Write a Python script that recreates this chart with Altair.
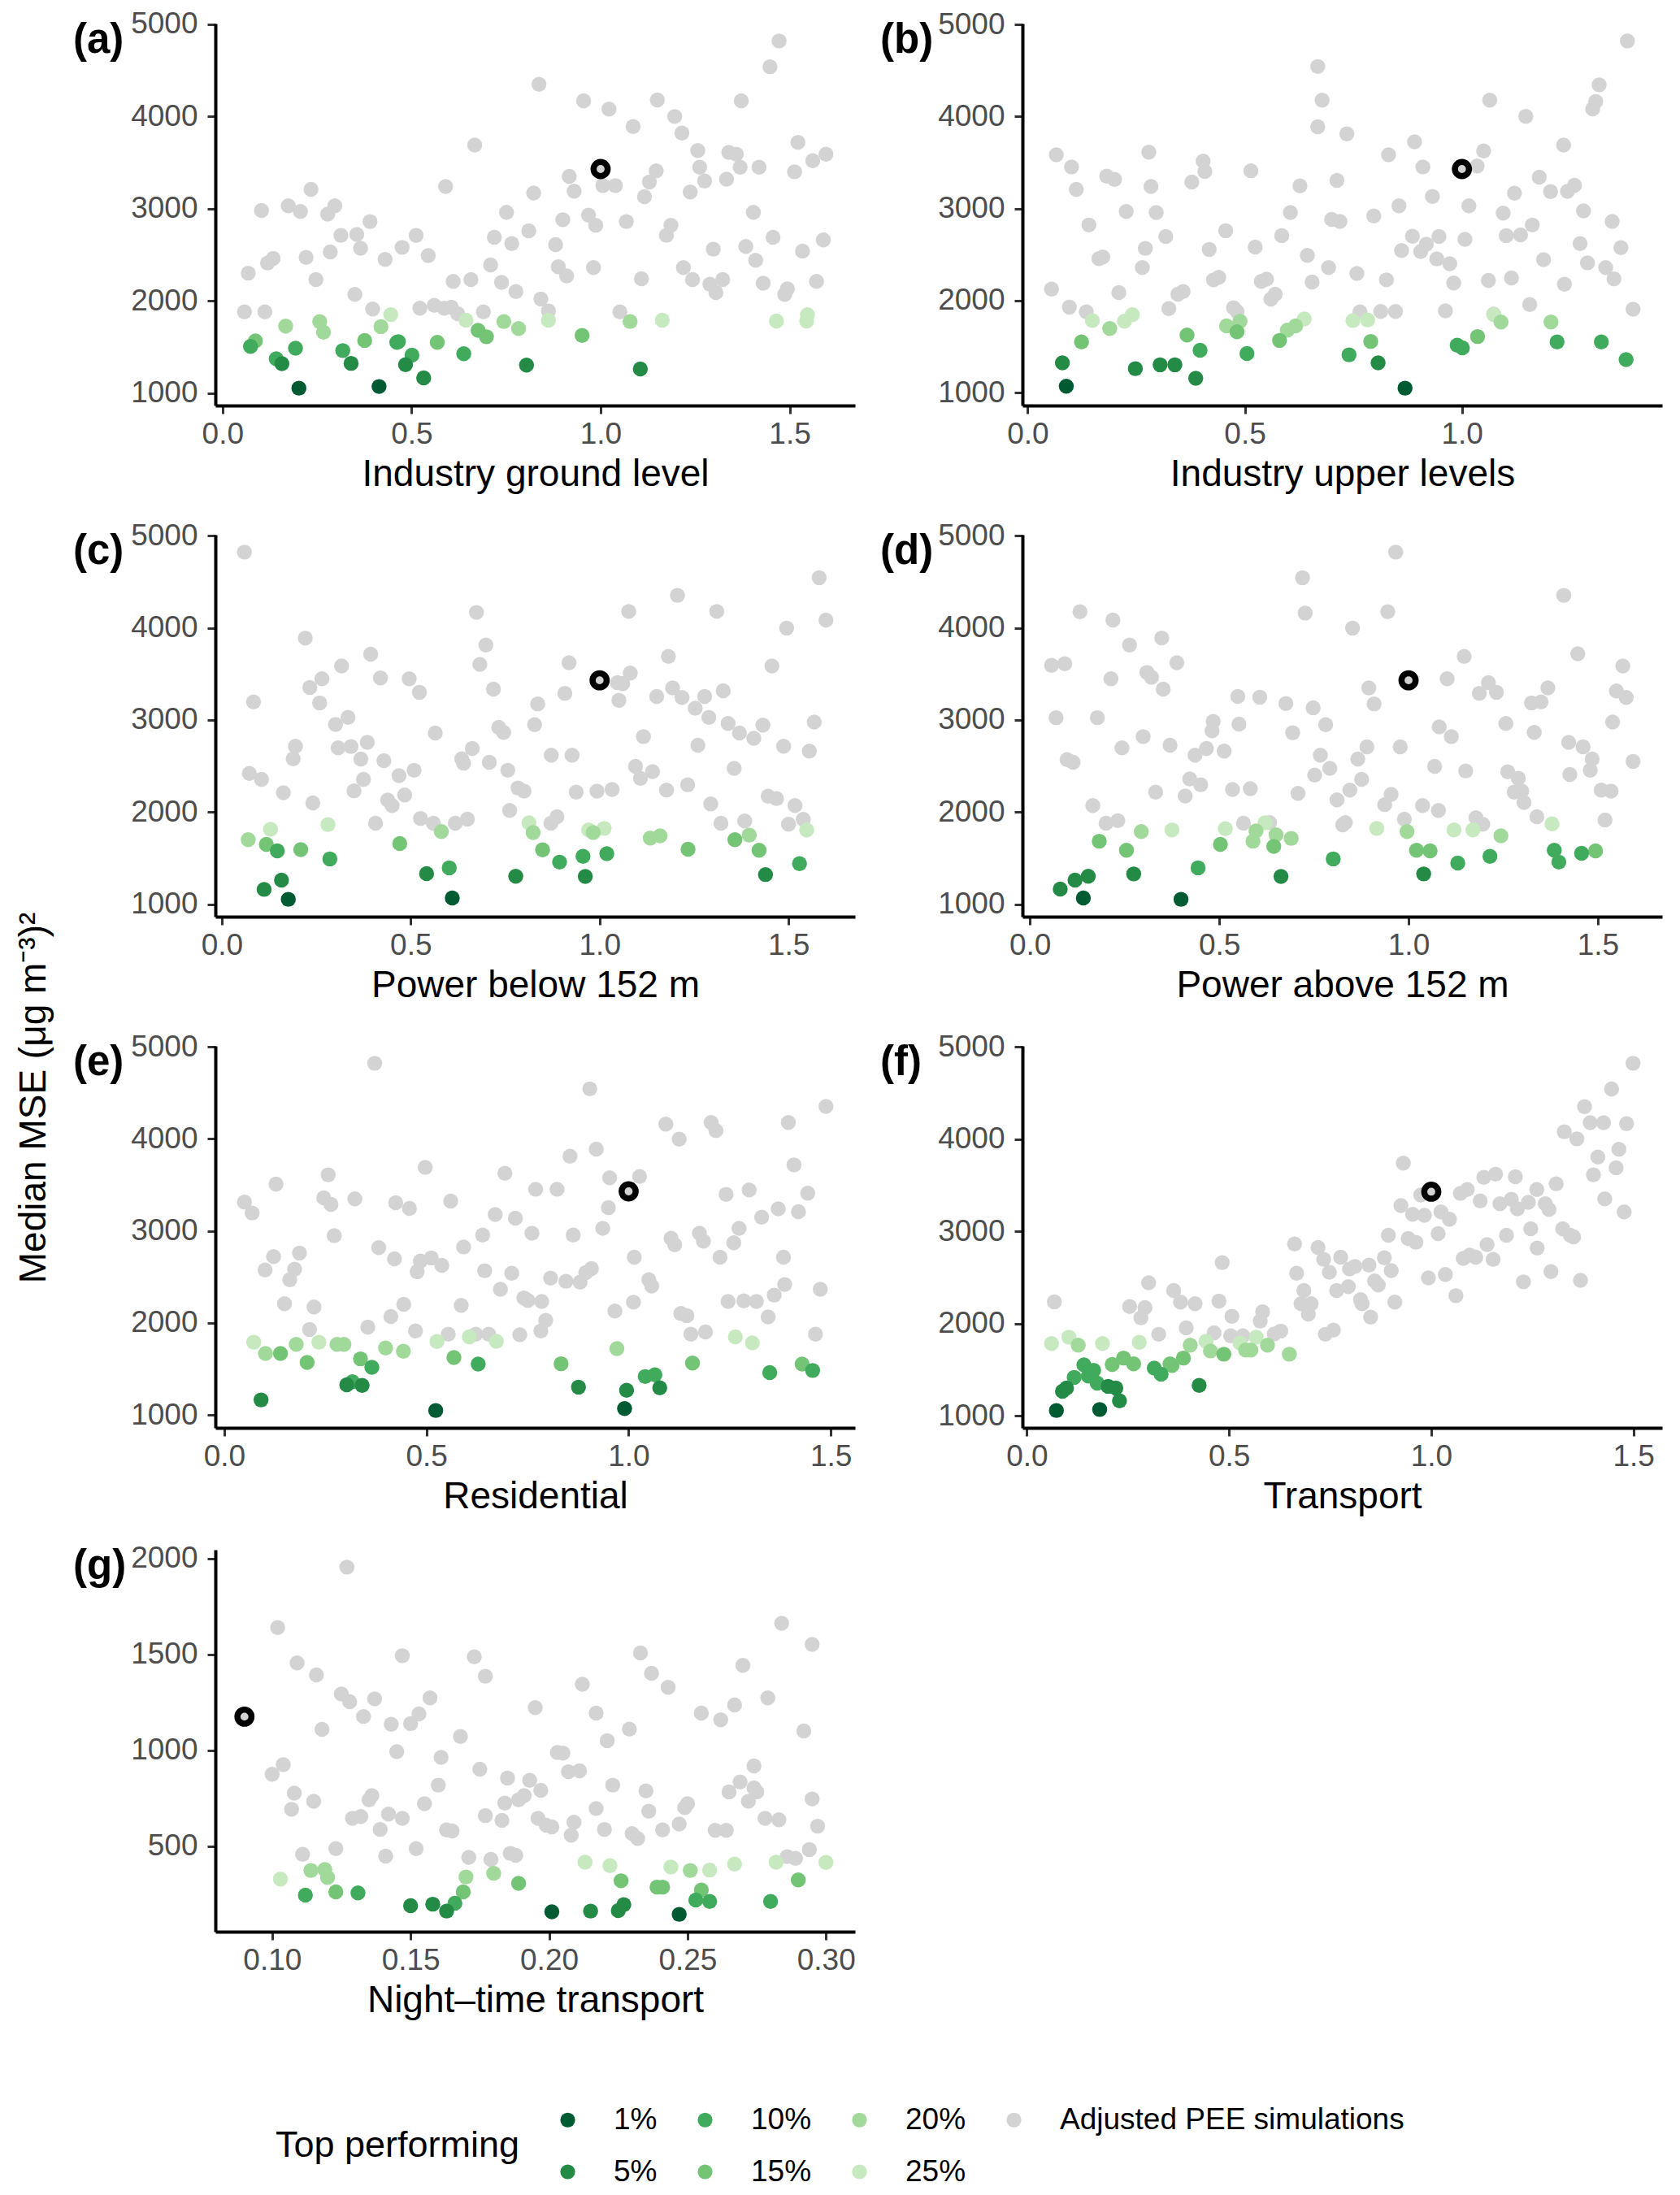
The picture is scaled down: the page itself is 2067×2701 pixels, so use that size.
import altair as alt
import pandas as pd

FONT = "Liberation Sans"

GRAY_LABEL = "Adjusted PEE simulations"
LEGEND_ORDER = ["1%", "10%", "20%", GRAY_LABEL, "5%", "15%", "25%"]
LEGEND_COLORS = ["#005a32", "#41ab5d", "#a1d99b", "#d3d3d3", "#238b45", "#74c476", "#c7e9c0"]
DRAW_ORDER = [GRAY_LABEL, "25%", "20%", "15%", "10%", "5%", "1%"]

TAGS = ["(a)", "(b)", "(c)", "(d)", "(e)", "(f)", "(g)"]
X_TITLES = ["Industry ground level", "Industry upper levels", "Power below 152 m",
            "Power above 152 m", "Residential", "Transport", "Night\u2013time transport"]
Y_TITLE = "Median MSE (\u03bcg m\u207b\u00b3)\u00b2"
LEGEND_TITLE = "Top performing"

X_TICKS = [0.0, 0.5, 1.0, 1.5]
X_TICKS_G = [0.10, 0.15, 0.20, 0.25, 0.30]
Y_TICKS = [1000, 2000, 3000, 4000, 5000]
Y_TICKS_G = [500, 1000, 1500, 2000]

REF = (1.0, 3430)
REF_G = (0.09, 1175)

# ---------------- (a) Industry ground level
a_gray = [
    (0.058, 1880), (0.068, 2300), (0.103, 2980), (0.112, 1880), (0.119, 2410), (0.134, 2460),
    (0.174, 3030), (0.206, 2970), (0.221, 2470), (0.234, 3210), (0.247, 2230), (0.278, 2940),
    (0.285, 2530), (0.297, 3030), (0.313, 2710), (0.350, 2070), (0.355, 2720), (0.365, 2570),
    (0.390, 2860), (0.397, 1910), (0.430, 2450), (0.475, 2580), (0.512, 2710), (0.522, 1920),
    (0.544, 2490), (0.560, 1950), (0.586, 1920), (0.590, 3240), (0.605, 1930), (0.610, 2210),
    (0.622, 1860), (0.657, 2230), (0.667, 3690), (0.690, 1880), (0.709, 2390), (0.719, 2690),
    (0.738, 2200), (0.751, 2960), (0.765, 2620), (0.776, 2100), (0.810, 2760), (0.823, 3170),
    (0.837, 4350), (0.842, 2020), (0.862, 1890), (0.881, 2610), (0.888, 2370), (0.900, 2880),
    (0.910, 2270), (0.917, 3350), (0.930, 3190), (0.955, 4170), (0.968, 2930), (0.981, 2360),
    (0.987, 2820), (1.006, 3250), (1.022, 4080), (1.039, 3250), (1.051, 1880), (1.068, 2860),
    (1.086, 3890), (1.108, 2240), (1.116, 3130), (1.129, 3290), (1.147, 3410), (1.150, 4180),
    (1.174, 2710), (1.186, 2820), (1.196, 4000), (1.215, 3820), (1.219, 2360), (1.237, 3180),
    (1.243, 2230), (1.257, 3630), (1.262, 3450), (1.275, 3300), (1.289, 2180), (1.298, 2560),
    (1.305, 2090), (1.323, 2230), (1.333, 3320), (1.339, 3610), (1.359, 3590), (1.369, 3450),
    (1.372, 4170), (1.384, 2590), (1.404, 2960), (1.410, 2440), (1.419, 3450), (1.430, 2190),
    (1.448, 4540), (1.456, 2690), (1.472, 4820), (1.487, 2070), (1.494, 2130), (1.513, 3400),
    (1.522, 3720), (1.534, 2540), (1.561, 3520), (1.571, 2210), (1.589, 2660), (1.596, 3590),
]
a_top = [
    ("25%", 0.445, 1850), ("25%", 0.644, 1790), ("25%", 0.862, 1790), ("25%", 1.163, 1790),
    ("25%", 1.465, 1780), ("25%", 1.547, 1850), ("25%", 1.545, 1780),
    ("20%", 0.167, 1725), ("20%", 0.257, 1775), ("20%", 0.267, 1660), ("20%", 0.419, 1720),
    ("20%", 0.744, 1775), ("20%", 0.783, 1700), ("20%", 1.078, 1775),
    ("15%", 0.087, 1565), ("15%", 0.376, 1570), ("15%", 0.568, 1550), ("15%", 0.676, 1680),
    ("15%", 0.698, 1610), ("15%", 0.951, 1625),
    ("10%", 0.074, 1505), ("10%", 0.142, 1370), ("10%", 0.193, 1485), ("10%", 0.318, 1460),
    ("10%", 0.461, 1550), ("10%", 0.465, 1557), ("10%", 0.501, 1410), ("10%", 0.638, 1425),
    ("5%", 0.157, 1317), ("5%", 0.340, 1321), ("5%", 0.484, 1307), ("5%", 0.532, 1164),
    ("5%", 0.804, 1303), ("5%", 1.105, 1261),
    ("1%", 0.202, 1052), ("1%", 0.414, 1070),
]

# ---------------- (b) Industry upper levels
b_gray = [
    (0.055, 2125), (0.066, 3585), (0.096, 1930), (0.101, 3453), (0.112, 3209), (0.135, 1878),
    (0.141, 2822), (0.164, 2456), (0.173, 2474), (0.182, 3352), (0.200, 3317), (0.210, 2087),
    (0.227, 2969), (0.264, 2359), (0.271, 2568), (0.279, 3613), (0.284, 3240), (0.296, 2958),
    (0.318, 2697), (0.325, 1913), (0.346, 2070), (0.358, 2098), (0.378, 3289), (0.404, 3516),
    (0.408, 3404), (0.418, 2557), (0.428, 2226), (0.440, 2254), (0.456, 2760), (0.474, 1923),
    (0.482, 1882), (0.514, 3411), (0.524, 2582), (0.538, 2209), (0.550, 2233), (0.560, 2017),
    (0.570, 2070), (0.585, 2707), (0.605, 2958), (0.627, 3247), (0.644, 2491), (0.655, 2202),
    (0.668, 4544), (0.668, 3889), (0.678, 4178), (0.693, 2359), (0.700, 2882), (0.712, 3307),
    (0.719, 2861), (0.735, 3812), (0.758, 2296), (0.765, 1878), (0.797, 2920), (0.813, 1882),
    (0.826, 2226), (0.831, 3585), (0.847, 1882), (0.855, 3031), (0.861, 2544), (0.886, 2700),
    (0.891, 3725), (0.905, 2533), (0.910, 3453), (0.918, 2613), (0.932, 3132), (0.942, 2453),
    (0.947, 2697), (0.962, 1889), (0.972, 2401), (0.981, 2192), (1.007, 2666), (1.016, 3031),
    (1.035, 3463), (1.050, 3627), (1.061, 2220), (1.064, 4178), (1.073, 1854), (1.095, 2951),
    (1.102, 2707), (1.114, 2247), (1.121, 3167), (1.135, 2714), (1.147, 4003), (1.156, 1958),
    (1.162, 2822), (1.178, 3341), (1.188, 2446), (1.204, 3185), (1.234, 3690), (1.236, 2178),
    (1.243, 3188), (1.259, 3254), (1.272, 2620), (1.280, 2976), (1.289, 2411), (1.301, 4084),
    (1.308, 4164), (1.316, 4345), (1.331, 2359), (1.346, 2861), (1.350, 2237), (1.366, 2575),
    (1.381, 4822), (1.394, 1906),
]
b_top = [
    ("25%", 0.149, 1784), ("25%", 0.223, 1777), ("25%", 0.241, 1847), ("25%", 0.637, 1801),
    ("25%", 0.749, 1784), ("25%", 0.783, 1791), ("25%", 1.074, 1847),
    ("20%", 0.189, 1697), ("20%", 0.458, 1725), ("20%", 0.489, 1777), ("20%", 0.598, 1679),
    ("20%", 0.617, 1725), ("20%", 1.090, 1767), ("20%", 1.205, 1767),
    ("15%", 0.124, 1551), ("15%", 0.367, 1627), ("15%", 0.482, 1662), ("15%", 0.580, 1568),
    ("15%", 0.790, 1557), ("15%", 1.036, 1610),
    ("10%", 0.397, 1460), ("10%", 0.505, 1425), ("10%", 0.740, 1411), ("10%", 0.989, 1516),
    ("10%", 1.001, 1488), ("10%", 1.219, 1551), ("10%", 1.321, 1551), ("10%", 1.378, 1359),
    ("5%", 0.080, 1324), ("5%", 0.248, 1261), ("5%", 0.305, 1303), ("5%", 0.339, 1303),
    ("5%", 0.387, 1157), ("5%", 0.807, 1324),
    ("1%", 0.089, 1070), ("1%", 0.869, 1049),
]

# ---------------- (c) Power below 152 m
c_gray = [
    (0.060, 4822), (0.073, 2418), (0.084, 3195), (0.105, 2355), (0.163, 2209), (0.189, 2578),
    (0.195, 2714), (0.221, 3889), (0.233, 3352), (0.241, 2098), (0.259, 3185), (0.265, 3446),
    (0.301, 2951), (0.308, 2697), (0.317, 3585), (0.334, 3028), (0.342, 2711), (0.350, 2230),
    (0.368, 2575), (0.375, 2355), (0.385, 2756), (0.394, 3714), (0.407, 1878), (0.420, 3456),
    (0.429, 2557), (0.439, 2129), (0.451, 2070), (0.469, 2394), (0.484, 2185), (0.496, 3446),
    (0.509, 2453), (0.523, 3300), (0.526, 1930), (0.560, 1878), (0.565, 2857), (0.618, 1878),
    (0.635, 2578), (0.640, 2530), (0.650, 1923), (0.663, 2690), (0.674, 4167), (0.683, 3603),
    (0.699, 3812), (0.708, 2540), (0.719, 3334), (0.733, 2920), (0.746, 2864), (0.757, 2453),
    (0.762, 2017), (0.784, 2261), (0.800, 2226), (0.828, 2948), (0.836, 3174), (0.871, 1878),
    (0.872, 2617), (0.887, 1948), (0.908, 3289), (0.919, 3620), (0.927, 2617), (0.938, 2216),
    (0.993, 2226), (1.033, 2244), (1.047, 3404), (1.051, 3212), (1.061, 3394), (1.077, 4178),
    (1.081, 3509), (1.095, 2495), (1.108, 2366), (1.116, 2819), (1.140, 2439), (1.151, 3254),
    (1.177, 2237), (1.182, 3690), (1.193, 3348), (1.206, 4352), (1.218, 3244), (1.233, 2296),
    (1.253, 3126), (1.260, 2725), (1.278, 3254), (1.289, 3028), (1.294, 2087), (1.310, 4178),
    (1.321, 1878), (1.327, 3317), (1.340, 2962), (1.356, 2474), (1.370, 2857), (1.384, 1902),
    (1.408, 2801), (1.432, 2944), (1.446, 2171), (1.456, 3585), (1.468, 2146), (1.487, 2714),
    (1.495, 3997), (1.500, 1868), (1.517, 2070), (1.539, 1920), (1.555, 2662), (1.568, 2976),
    (1.581, 4544), (1.599, 4084),
]
c_top = [
    ("25%", 0.129, 1812), ("25%", 0.281, 1864), ("25%", 0.813, 1882), ("25%", 0.971, 1805),
    ("25%", 1.012, 1822), ("25%", 1.548, 1805),
    ("20%", 0.070, 1700), ("20%", 0.581, 1787), ("20%", 0.824, 1777), ("20%", 0.983, 1777),
    ("20%", 1.134, 1718), ("20%", 1.160, 1742), ("20%", 1.396, 1749),
    ("15%", 0.118, 1648), ("15%", 0.209, 1592), ("15%", 0.471, 1658), ("15%", 0.849, 1589),
    ("15%", 1.234, 1596), ("15%", 1.358, 1700), ("15%", 1.422, 1585),
    ("10%", 0.147, 1578), ("10%", 0.286, 1491), ("10%", 0.602, 1394), ("10%", 0.894, 1456),
    ("10%", 0.956, 1519), ("10%", 1.019, 1547), ("10%", 1.529, 1439),
    ("5%", 0.112, 1160), ("5%", 0.158, 1261), ("5%", 0.542, 1331), ("5%", 0.778, 1303),
    ("5%", 0.962, 1300), ("5%", 1.439, 1321),
    ("1%", 0.176, 1052), ("1%", 0.610, 1066),
]

# ---------------- (d) Power above 152 m
d_gray = [
    (0.057, 3592), (0.069, 3024), (0.092, 3610), (0.098, 2568), (0.114, 2540), (0.132, 4174),
    (0.166, 2070), (0.178, 3024), (0.201, 1878), (0.214, 3446), (0.219, 4084), (0.232, 1906),
    (0.243, 2697), (0.263, 3812), (0.299, 2819), (0.309, 3516), (0.321, 3463), (0.332, 2216),
    (0.348, 3889), (0.352, 3334), (0.370, 2725), (0.388, 3620), (0.410, 2174), (0.422, 2359),
    (0.436, 2617), (0.451, 2296), (0.466, 2690), (0.481, 2882), (0.484, 2983), (0.513, 2662),
    (0.535, 2244), (0.549, 3254), (0.552, 2955), (0.564, 1878), (0.582, 2254), (0.607, 3247),
    (0.633, 1885), (0.676, 3178), (0.694, 2861), (0.708, 2202), (0.720, 4544), (0.727, 4160),
    (0.748, 3132), (0.752, 2401), (0.767, 2617), (0.781, 2948), (0.792, 2474), (0.811, 2132),
    (0.826, 1861), (0.833, 1885), (0.845, 2237), (0.852, 3997), (0.866, 2575), (0.876, 2355),
    (0.890, 2707), (0.895, 3348), (0.909, 3174), (0.937, 2080), (0.954, 2192), (0.945, 4174),
    (0.966, 4822), (0.978, 2707), (0.989, 1923), (1.037, 2070), (1.069, 2495), (1.079, 2017),
    (1.081, 2923), (1.102, 3446), (1.113, 2819), (1.147, 3690), (1.151, 2446), (1.178, 1937),
    (1.187, 3289), (1.196, 1868), (1.211, 3404), (1.232, 3300), (1.257, 2962), (1.262, 2436),
    (1.279, 2216), (1.290, 2366), (1.299, 2226), (1.305, 2104), (1.325, 3185), (1.332, 2864),
    (1.339, 1948), (1.350, 3195), (1.368, 3348), (1.410, 4352), (1.423, 2756), (1.426, 2408),
    (1.447, 3718), (1.461, 2707), (1.480, 2453), (1.485, 2575), (1.509, 2237), (1.519, 1913),
    (1.535, 2226), (1.539, 2976), (1.549, 3314), (1.566, 3585), (1.575, 3244), (1.593, 2550),
]
d_top = [
    ("25%", 0.375, 1805), ("25%", 0.516, 1819), ("25%", 0.621, 1882), ("25%", 0.916, 1822),
    ("25%", 1.120, 1805), ("25%", 1.170, 1805), ("25%", 1.379, 1871),
    ("20%", 0.294, 1787), ("20%", 0.589, 1683), ("20%", 0.597, 1794), ("20%", 0.650, 1753),
    ("20%", 0.690, 1714), ("20%", 0.996, 1787), ("20%", 1.244, 1742),
    ("15%", 0.183, 1683), ("15%", 0.255, 1585), ("15%", 0.503, 1648), ("15%", 0.644, 1627),
    ("15%", 1.021, 1585), ("15%", 1.057, 1578), ("15%", 1.494, 1578),
    ("10%", 0.444, 1394), ("10%", 0.801, 1491), ("10%", 1.130, 1446), ("10%", 1.215, 1519),
    ("10%", 1.385, 1585), ("10%", 1.397, 1456), ("10%", 1.457, 1551),
    ("5%", 0.080, 1164), ("5%", 0.119, 1261), ("5%", 0.154, 1303), ("5%", 0.274, 1328),
    ("5%", 0.663, 1300), ("5%", 1.040, 1328),
    ("1%", 0.141, 1066), ("1%", 0.399, 1052),
]

# ---------------- (e) Residential
e_gray = [
    (0.050, 3314), (0.069, 3195), (0.101, 2575), (0.122, 2721), (0.128, 3509), (0.149, 2209),
    (0.162, 2470), (0.174, 2585), (0.186, 2760), (0.211, 1930), (0.222, 2174), (0.246, 3359),
    (0.257, 3610), (0.264, 3289), (0.272, 2948), (0.323, 3348), (0.355, 1955), (0.372, 4822),
    (0.382, 2819), (0.412, 2070), (0.421, 2697), (0.424, 3307), (0.444, 2202), (0.458, 3244),
    (0.473, 1913), (0.477, 2557), (0.485, 2672), (0.497, 3690), (0.512, 2707), (0.538, 2627),
    (0.554, 1878), (0.560, 3324), (0.586, 2192), (0.592, 2826), (0.622, 1878), (0.639, 2955),
    (0.644, 2568), (0.654, 1878), (0.670, 3178), (0.683, 2366), (0.694, 3627), (0.711, 2540),
    (0.720, 3139), (0.731, 1871), (0.741, 2272), (0.751, 2244), (0.761, 2976), (0.770, 3453),
    (0.783, 1913), (0.785, 2233), (0.795, 2028), (0.807, 2488), (0.823, 3453), (0.845, 2453),
    (0.855, 3812), (0.863, 2955), (0.880, 2443), (0.894, 2547), (0.904, 4544), (0.908, 2592),
    (0.920, 3889), (0.936, 3028), (0.950, 3254), (0.953, 3578), (0.966, 2129), (1.012, 2226),
    (1.014, 2714), (1.027, 3592), (1.050, 2470), (1.057, 2401), (1.092, 4160), (1.105, 2920),
    (1.114, 2850), (1.125, 3997), (1.129, 2104), (1.144, 2080), (1.154, 1878), (1.175, 2976),
    (1.185, 2889), (1.190, 1902), (1.204, 4178), (1.216, 4091), (1.226, 2714), (1.241, 3397),
    (1.246, 2233), (1.260, 2871), (1.273, 3028), (1.285, 2240), (1.298, 3446), (1.316, 2233),
    (1.329, 3150), (1.345, 2066), (1.360, 2303), (1.370, 3240), (1.383, 2714), (1.386, 2418),
    (1.395, 4178), (1.409, 3718), (1.420, 3209), (1.443, 3411), (1.462, 1878), (1.474, 2366),
    (1.488, 4352),
]
e_top = [
    ("25%", 0.073, 1791), ("25%", 0.234, 1791), ("25%", 0.526, 1798), ("25%", 0.606, 1850),
    ("25%", 0.673, 1801), ("25%", 1.264, 1850), ("25%", 1.306, 1784),
    ("20%", 0.102, 1669), ("20%", 0.178, 1767), ("20%", 0.279, 1767), ("20%", 0.296, 1767),
    ("20%", 0.399, 1728), ("20%", 0.443, 1693), ("20%", 0.971, 1721),
    ("15%", 0.139, 1669), ("15%", 0.205, 1571), ("15%", 0.337, 1610), ("15%", 0.568, 1624),
    ("15%", 0.833, 1557), ("15%", 1.158, 1564), ("15%", 1.429, 1554),
    ("10%", 0.317, 1362), ("10%", 0.365, 1519), ("10%", 0.628, 1554), ("10%", 1.041, 1418),
    ("10%", 1.065, 1436), ("10%", 1.349, 1460), ("10%", 1.455, 1484),
    ("5%", 0.091, 1164), ("5%", 0.303, 1328), ("5%", 0.341, 1321), ("5%", 0.876, 1303),
    ("5%", 0.995, 1268), ("5%", 1.077, 1296),
    ("1%", 0.523, 1049), ("1%", 0.990, 1070),
]

# ---------------- (f) Transport
f_gray = [
    (0.068, 2237), (0.254, 2185), (0.282, 2063), (0.292, 2174), (0.301, 2443), (0.326, 1885),
    (0.363, 2359), (0.380, 2233), (0.394, 1955), (0.416, 2216), (0.463, 1902), (0.475, 2244),
    (0.483, 2662), (0.504, 1868), (0.507, 2080), (0.534, 1868), (0.577, 2028), (0.583, 2129),
    (0.612, 1889), (0.628, 1920), (0.662, 2864), (0.667, 2547), (0.678, 2216), (0.685, 2359),
    (0.696, 2104), (0.703, 2216), (0.720, 2826), (0.734, 2697), (0.738, 1885), (0.748, 2557),
    (0.758, 1930), (0.766, 2359), (0.776, 2721), (0.795, 2401), (0.798, 2592), (0.811, 2620),
    (0.825, 2261), (0.829, 2216), (0.846, 2634), (0.850, 2070), (0.860, 2463), (0.869, 2418),
    (0.884, 2714), (0.894, 2958), (0.901, 2575), (0.910, 2233), (0.925, 3279), (0.931, 3739),
    (0.943, 2923), (0.954, 3185), (0.962, 2882), (0.974, 3394), (0.983, 3174), (0.993, 2495),
    (1.017, 2976), (1.024, 3212), (1.035, 2533), (1.045, 3132), (1.061, 2303), (1.072, 3411),
    (1.079, 2707), (1.089, 3453), (1.095, 2742), (1.110, 2721), (1.121, 3331), (1.130, 3585),
    (1.138, 2857), (1.153, 2697), (1.159, 3620), (1.170, 3300), (1.186, 2958), (1.198, 3348),
    (1.208, 3592), (1.213, 3244), (1.228, 2453), (1.240, 3314), (1.246, 3028), (1.262, 2819),
    (1.261, 3453), (1.282, 3300), (1.291, 3237), (1.296, 2564), (1.309, 3516), (1.325, 3028),
    (1.329, 4080), (1.344, 2958), (1.352, 2941), (1.360, 4003), (1.369, 2470), (1.379, 4352),
    (1.393, 4178), (1.401, 3613), (1.412, 3805), (1.426, 4178), (1.429, 3352), (1.446, 4544),
    (1.457, 3690), (1.464, 3889), (1.477, 3212), (1.483, 4167), (1.499, 4822),
]
f_top = [
    ("25%", 0.061, 1784), ("25%", 0.104, 1854), ("25%", 0.187, 1784), ("25%", 0.278, 1798),
    ("25%", 0.443, 1808), ("25%", 0.527, 1791), ("25%", 0.567, 1854),
    ("20%", 0.127, 1767), ("20%", 0.404, 1767), ("20%", 0.454, 1704), ("20%", 0.541, 1714),
    ("20%", 0.554, 1714), ("20%", 0.595, 1767), ("20%", 0.649, 1669),
    ("15%", 0.211, 1557), ("15%", 0.239, 1627), ("15%", 0.264, 1564), ("15%", 0.354, 1564),
    ("15%", 0.359, 1547), ("15%", 0.387, 1627), ("15%", 0.487, 1669),
    ("10%", 0.117, 1418), ("10%", 0.141, 1554), ("10%", 0.152, 1432), ("10%", 0.165, 1495),
    ("10%", 0.174, 1355), ("10%", 0.315, 1519), ("10%", 0.332, 1453),
    ("5%", 0.088, 1268), ("5%", 0.098, 1303), ("5%", 0.201, 1321), ("5%", 0.220, 1303),
    ("5%", 0.229, 1164), ("5%", 0.426, 1331),
    ("1%", 0.073, 1059), ("1%", 0.180, 1070),
]

# ---------------- (g) Night-time transport
g_gray = [
    (0.100, 875), (0.102, 1640), (0.104, 925), (0.107, 692), (0.108, 776), (0.109, 1455),
    (0.111, 457), (0.115, 734), (0.116, 1393), (0.118, 1109), (0.123, 487), (0.125, 1293),
    (0.127, 1955), (0.128, 1253), (0.129, 645), (0.132, 654), (0.133, 1176), (0.135, 741),
    (0.136, 763), (0.137, 1268), (0.139, 587), (0.141, 448), (0.142, 667), (0.143, 1135),
    (0.145, 992), (0.147, 1493), (0.147, 645), (0.150, 1139), (0.152, 487), (0.153, 1189),
    (0.155, 721), (0.157, 1273), (0.160, 818), (0.161, 963), (0.163, 584), (0.165, 579),
    (0.168, 1072), (0.171, 441), (0.173, 1487), (0.175, 901), (0.177, 1386), (0.177, 659),
    (0.179, 431), (0.183, 634), (0.184, 724), (0.185, 855), (0.186, 462), (0.188, 452),
    (0.189, 741), (0.191, 763), (0.193, 843), (0.195, 1222), (0.196, 645), (0.197, 791),
    (0.199, 609), (0.201, 600), (0.203, 988), (0.205, 985), (0.207, 888), (0.208, 557),
    (0.209, 625), (0.211, 893), (0.212, 1344), (0.217, 696), (0.217, 1194), (0.220, 587),
    (0.221, 1050), (0.223, 818), (0.229, 1110), (0.230, 565), (0.232, 540), (0.233, 1507),
    (0.235, 788), (0.236, 682), (0.237, 1401), (0.241, 584), (0.243, 1328), (0.247, 615),
    (0.249, 701), (0.250, 721), (0.255, 1194), (0.260, 582), (0.262, 1159), (0.264, 582),
    (0.265, 783), (0.267, 1236), (0.269, 834), (0.270, 1443), (0.272, 734), (0.274, 804),
    (0.274, 918), (0.275, 783), (0.278, 645), (0.279, 1273), (0.283, 637), (0.284, 1662),
    (0.286, 445), (0.289, 436), (0.292, 1100), (0.294, 482), (0.295, 746), (0.295, 1552),
    (0.297, 604),
]
g_top = [
    ("25%", 0.103, 328), ("25%", 0.213, 416), ("25%", 0.222, 398), ("25%", 0.244, 391),
    ("25%", 0.258, 375), ("25%", 0.267, 406), ("25%", 0.282, 416), ("25%", 0.300, 415),
    ("20%", 0.114, 373), ("20%", 0.119, 378), ("20%", 0.120, 336), ("20%", 0.170, 339),
    ("20%", 0.180, 358), ("20%", 0.251, 373),
    ("15%", 0.123, 261), ("15%", 0.169, 261), ("15%", 0.189, 306), ("15%", 0.226, 319),
    ("15%", 0.239, 286), ("15%", 0.241, 286), ("15%", 0.255, 271), ("15%", 0.290, 324),
    ("10%", 0.112, 244), ("10%", 0.131, 256), ("10%", 0.166, 202), ("10%", 0.253, 219),
    ("10%", 0.258, 211), ("10%", 0.280, 211),
    ("5%", 0.150, 189), ("5%", 0.158, 197), ("5%", 0.163, 161), ("5%", 0.215, 161),
    ("5%", 0.225, 164), ("5%", 0.227, 194),
    ("1%", 0.201, 157), ("1%", 0.247, 144),
]

PANEL_W = 787
PANEL_H = 470

color_scale = alt.Scale(domain=LEGEND_ORDER, range=LEGEND_COLORS)


def expand(lo, hi, frac=0.05):
    pad = (hi - lo) * frac
    return [lo - pad, hi + pad]


def panel(i, gray, top, ref, xticks, yticks, xfmt):
    rows = [{"x": x, "y": y, "group": GRAY_LABEL} for x, y in gray]
    rows += [{"x": x, "y": y, "group": g} for g, x, y in top]
    df = pd.DataFrame(rows)
    df["order"] = df["group"].map({g: k for k, g in enumerate(DRAW_ORDER)})
    df = df.sort_values("order", kind="stable")

    xdom = expand(min(df["x"].min(), ref[0]), max(df["x"].max(), ref[0]))
    ydom = expand(min(df["y"].min(), ref[1]), max(df["y"].max(), ref[1]))
    xvals = [v for v in xticks if xdom[0] <= v <= xdom[1]]
    yvals = [v for v in yticks if ydom[0] <= v <= ydom[1]]

    x_enc = alt.X("x:Q", title=X_TITLES[i],
                  scale=alt.Scale(domain=xdom, nice=False, zero=False),
                  axis=alt.Axis(values=xvals, format=xfmt, labelPadding=7))
    y_enc = alt.Y("y:Q", title=None,
                  scale=alt.Scale(domain=ydom, nice=False, zero=False),
                  axis=alt.Axis(values=yvals, format="d", labelPadding=12))

    pts = alt.Chart(df).mark_circle(size=340, opacity=1).encode(
        x=x_enc,
        y=y_enc,
        color=alt.Color("group:N", scale=color_scale, title=LEGEND_TITLE),
        order=alt.Order("order:Q"),
    )
    ring = alt.Chart(pd.DataFrame({"x": [ref[0]], "y": [ref[1]]})).mark_point(
        shape="circle", filled=True, fill="#d3d3d3", stroke="black",
        strokeWidth=7.5, size=300, opacity=1, fillOpacity=1, strokeOpacity=1,
    ).encode(x="x:Q", y="y:Q")
    tag = alt.Chart(pd.DataFrame({"t": [TAGS[i]]})).mark_text(
        align="left", baseline="alphabetic", fontSize=51, fontWeight="bold",
        font=FONT, color="black",
    ).encode(x=alt.value(-175), y=alt.value(36), text="t:N")

    return alt.layer(pts, ring, tag).properties(width=PANEL_W, height=PANEL_H)


pa = panel(0, a_gray, a_top, REF, X_TICKS, Y_TICKS, ".1f")
pb = panel(1, b_gray, b_top, REF, X_TICKS, Y_TICKS, ".1f")
pc = panel(2, c_gray, c_top, REF, X_TICKS, Y_TICKS, ".1f")
pd_ = panel(3, d_gray, d_top, REF, X_TICKS, Y_TICKS, ".1f")
pe = panel(4, e_gray, e_top, REF, X_TICKS, Y_TICKS, ".1f")
pf = panel(5, f_gray, f_top, REF, X_TICKS, Y_TICKS, ".1f")
pg = panel(6, g_gray, g_top, REF_G, X_TICKS_G, Y_TICKS_G, ".2f")

HSP = 31
chart = alt.vconcat(
    alt.hconcat(pa, pb, spacing=HSP),
    alt.hconcat(pc, pd_, spacing=HSP),
    alt.hconcat(pe, pf, spacing=HSP),
    alt.hconcat(pg, spacing=HSP),
    spacing=34,
).properties(
    title=alt.TitleParams(text=Y_TITLE, orient="left", anchor="middle", fontSize=46,
                          fontWeight="normal", font=FONT, color="black", offset=24),
    padding={"left": 10, "top": 2, "right": 5, "bottom": 5},
).configure_view(
    stroke=None
).configure_axis(
    grid=False,
    domainColor="black",
    domainWidth=4,
    tickColor="#333333",
    tickWidth=3,
    tickSize=10,
    labelFont=FONT,
    labelFontSize=37,
    labelColor="#4d4d4d",
    labelFlush=False,
    labelOverlap=False,
    titleFont=FONT,
    titleFontSize=46,
    titleFontWeight="normal",
    titleColor="black",
    titlePadding=9,
).configure_legend(
    orient="none",
    legendX=74,
    legendY=2561,
    columns=4,
    direction="horizontal",
    titleOrient="left",
    titleFont=FONT,
    titleFontSize=45,
    titleFontWeight="normal",
    titleColor="black",
    titleBaseline="middle",
    titleAnchor="middle",
    titlePadding=40,
    titleLimit=0,
    labelFont=FONT,
    labelFontSize=37,
    labelColor="black",
    labelLimit=0,
    labelOffset=38,
    columnPadding=40,
    rowPadding=26,
    symbolType="circle",
    symbolSize=330,
    symbolStrokeWidth=0,
    gridAlign="each",
)

chart.save("out.html", embed_options={"renderer": "svg", "actions": False})
